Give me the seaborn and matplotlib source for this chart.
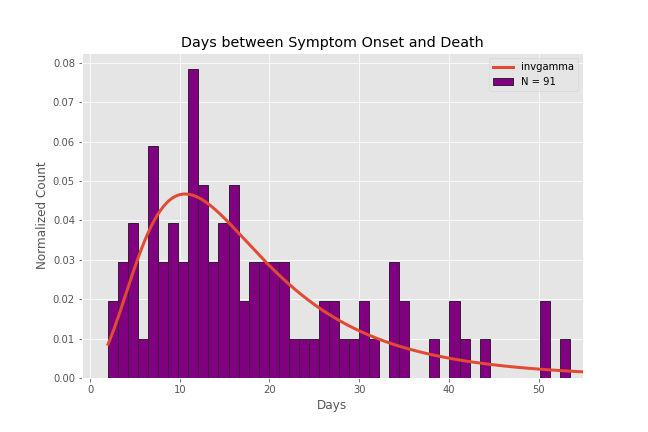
import math
import numpy as np
import pandas as pd
import matplotlib
matplotlib.use("Agg")
import matplotlib.pyplot as plt
import seaborn as sns

# ---- data ----
N_TOTAL = 91
BIN_START = 2.0
BIN_END = 53.5
N_BINS = 46
bin_counts = [2, 3, 4, 1, 6, 3, 4, 3, 8, 5, 3, 4, 5, 2, 3, 3, 3, 3, 1, 1, 1, 2, 2,
              1, 1, 2, 1, 0, 3, 2, 0, 0, 1, 0, 2, 1, 0, 1, 0, 0, 0, 0, 0, 2, 0, 1]

# fitted inverse-gamma parameters (shape, loc, scale)
ig_shape = 5.4
ig_loc = -7.4
ig_scale = 115.2
curve_start, curve_end = 2.0, 55.0

title = "Days between Symptom Onset and Death"
xlabel = "Days"
ylabel = "Normalized Count"

# ---- build ----
edges = np.linspace(BIN_START, BIN_END, N_BINS + 1)
width = edges[1] - edges[0]
centers = (edges[:-1] + edges[1:]) / 2
hist_df = pd.DataFrame({"day": centers,
                        "w": np.array(bin_counts) / (N_TOTAL * width)})

def invgamma_pdf(x, a, loc, scale):
    y = (x - loc) / scale
    return np.exp(-(a + 1) * np.log(y) - 1.0 / y - math.lgamma(a)) / scale

xs = np.linspace(curve_start, curve_end, 300)
curve_df = pd.DataFrame({"x": xs, "pdf": invgamma_pdf(xs, ig_shape, ig_loc, ig_scale)})

plt.style.use("ggplot")
fig, ax = plt.subplots(figsize=(9, 6), dpi=72)
fig.subplots_adjust(left=0.1265, right=0.899, bottom=0.125, top=0.877)

sns.lineplot(data=curve_df, x="x", y="pdf", ax=ax, color="#E24A33", linewidth=3,
             label="invgamma")
sns.histplot(data=hist_df, x="day", weights="w", bins=[float(e) for e in edges],
             stat="count", ax=ax,
             color="purple", edgecolor="#3a1f3a", linewidth=1, alpha=1,
             label=f"N = {N_TOTAL}")

ax.set_xlim(-0.9, 54.9)
ax.set_title(title, color="black")
ax.set_xlabel(xlabel)
ax.set_ylabel(ylabel)
ax.legend(loc="upper right")

fig.savefig("out.png", dpi=72)
